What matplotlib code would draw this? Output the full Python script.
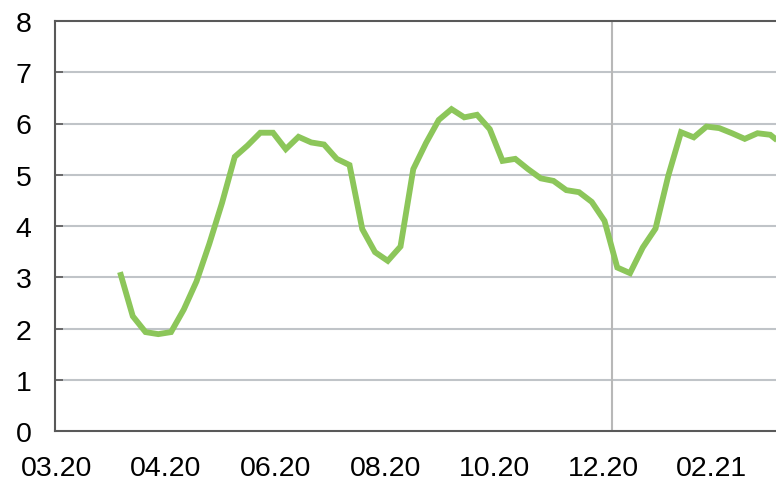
import matplotlib
matplotlib.use("Agg")
import matplotlib.pyplot as plt
import numpy as np

plt.rcParams["font.family"] = ["Liberation Sans", "DejaVu Sans"]

# weekly readings, one value per week
values = [
    3.10, 2.24, 1.93, 1.89, 1.93, 2.37, 2.92, 3.65, 4.45, 5.35,
    5.57, 5.82, 5.82, 5.50, 5.74, 5.63, 5.59, 5.31, 5.19, 3.94,
    3.49, 3.32, 3.60, 5.11, 5.62, 6.07, 6.28, 6.12, 6.17, 5.89,
    5.27, 5.31, 5.11, 4.93, 4.88, 4.70, 4.66, 4.47, 4.10, 3.19,
    3.08, 3.58, 3.95, 4.98, 5.83, 5.73, 5.94, 5.91, 5.81, 5.70,
    5.81, 5.78, 5.58,
]
month_labels = ["03.20", "04.20", "06.20", "08.20", "10.20", "12.20", "02.21"]
# week positions of the month labels
month_pos = [-5.0, 3.6, 12.2, 20.8, 29.4, 37.9, 46.4]
year_break = 38.6

weeks = np.arange(len(values))

fig = plt.figure(figsize=(7.76, 4.81), dpi=100)
ax = fig.add_axes([55 / 776, 1 - 432 / 481, 1 - 55 / 776 + 0.01, (432 - 22) / 481])

grid_c = "#c0c4c8"
for y in range(1, 8):
    ax.axhline(y, color=grid_c, lw=1.5, zorder=1)
ax.axvline(year_break, color="#b8b8b8", lw=1.5, zorder=1)

ax.plot(weeks, values, color="#8cc65a", lw=4.2, solid_joinstyle="miter",
        solid_capstyle="butt", zorder=3)

ax.set_xlim(-5.1, 51.45 + 0.01 * 776 / 12.75)
ax.set_ylim(0, 8)
ax.set_yticks(range(0, 9))
ax.set_xticks(month_pos)
ax.set_xticklabels(month_labels)

ax.tick_params(axis="y", direction="in", length=6, width=1.2, color="#595959",
               labelsize=20.5, pad=17)
ax.tick_params(axis="x", length=0, labelsize=20.5, pad=17)

for side in ["left", "bottom", "top"]:
    ax.spines[side].set_color("#595959")
    ax.spines[side].set_linewidth(1.5)
ax.spines["right"].set_visible(False)

fig.savefig("out.png", dpi=100)
